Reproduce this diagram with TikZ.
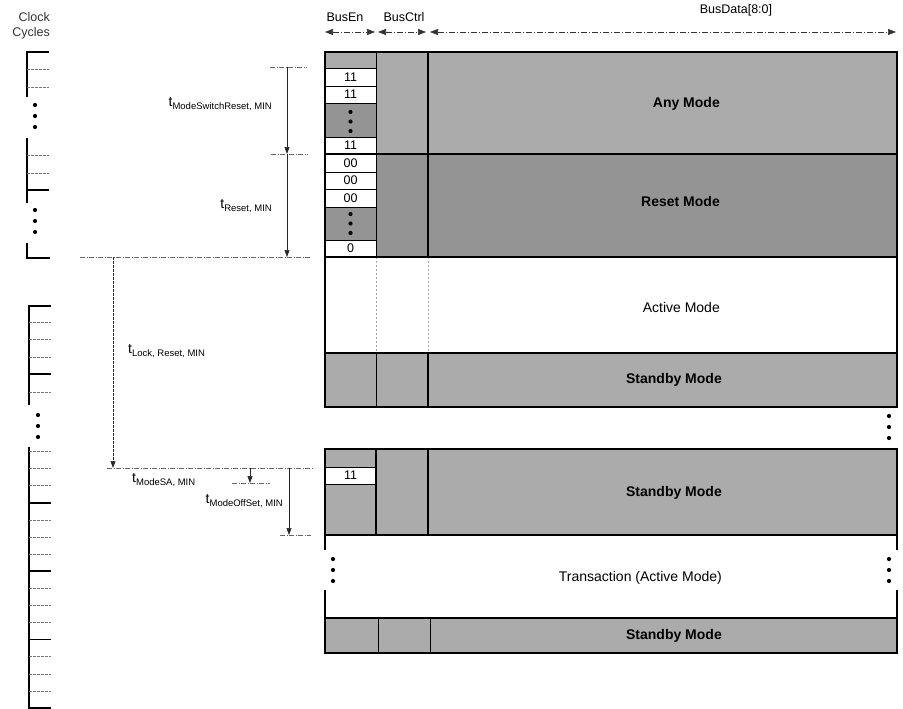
\documentclass[tikz,border=0pt]{standalone}
\usepackage{fontspec}
\setmainfont{Liberation Sans}
\usetikzlibrary{arrows.meta}
\newcommand\tlab[1]{{\fontsize{14}{15}\selectfont t}\raisebox{-2.5pt}{\fontsize{9.5}{10}\selectfont #1}}
\begin{document}
\begin{tikzpicture}[x=1pt,y=-1pt,
  shd/.style={fill=black!33},
  dshd/.style={fill=black!42},
  thk/.style={line width=1.8pt},
  thn/.style={line width=0.8pt},
  faint/.style={black!35,line width=0.5pt,dash pattern=on 2pt off 2pt},
  cell/.style={font=\fontsize{12.5}{12.5}\selectfont,inner sep=0pt},
  mode/.style={anchor=east,font=\fontsize{14}{16}\selectfont,inner sep=0pt},
  modeb/.style={anchor=east,font=\fontsize{14}{16}\selectfont\bfseries,inner sep=0pt},
  dimline/.style={black!60,line width=0.5pt,dash pattern=on 5pt off 1.5pt on 1pt off 1.5pt},
  dimarrow/.style={black!85,line width=0.6pt,-{Triangle[length=7pt,width=5pt]}},
  tickd/.style={black!55,line width=0.5pt,dash pattern=on 3pt off 1pt},
  tickm/.style={line width=1.5pt},
  clk/.style={line width=1.8pt},
  dot/.style={circle,fill=black,inner sep=0pt,minimum size=4.2pt},
  hdr/.style={font=\fontsize{12.5}{14}\selectfont,inner sep=0pt},
  harrow/.style={black!80,line width=0.6pt,dash pattern=on 6pt off 2pt on 1pt off 2pt,{Triangle[length=8pt,width=6pt]}-{Triangle[length=8pt,width=6pt]}},
  tl/.style={inner sep=0pt}
]
\useasboundingbox (0,0) rectangle (903,709);

% ---------- Clock cycles ----------
\node[hdr,anchor=east,black!80] (clk1) at (50,17) {Clock};
\node[hdr,anchor=east,black!80] (clk2) at (50,33) {Cycles};
\draw[clk] (49,52) -- (27,52) -- (27,97);
\foreach \y in {69,87} \draw[tickd] (27,\y) -- (49,\y);
\foreach \y in {105,116,127} \node[dot] at (35,\y) {};
\draw[clk] (27,138) -- (27,203);
\foreach \y in {155,173} \draw[tickd] (27,\y) -- (49,\y);
\draw[tickm] (27,190) -- (49,190);
\foreach \y in {210,221,232} \node[dot] at (35,\y) {};
\draw[clk] (27,243) -- (27,258) -- (50,258);

\draw[clk] (51,306) -- (29,306) -- (29,405);
\foreach \y in {322,339,357,392} \draw[tickd] (29,\y) -- (51,\y);
\draw[tickm] (29,374) -- (51,374);
\foreach \y in {415,426,437} \node[dot] at (38,\y) {};
\draw[clk] (29,447) -- (29,708) -- (51,708);
\foreach \k in {0,1,2,4,5,6,8,9,10,12,13,14} \draw[tickd] (29,451.5+17.1*\k) -- (51,451.5+17.1*\k);
\foreach \k in {3,7,11} \draw[tickm] (29,451.5+17.1*\k) -- (51,451.5+17.1*\k);

% ---------- Header ----------
\node[hdr] (hbe) at (345,17) {BusEn};
\node[hdr] (hbc) at (404,17) {BusCtrl};
\node[hdr] (hbd) at (736,10) {BusData[8:0]};
\coordinate (a1) at (325,32); \coordinate (a2) at (375,32);
\coordinate (b1) at (378,32); \coordinate (b2) at (426,32);
\coordinate (c1) at (430,32); \coordinate (c2) at (896,32);
\draw[harrow] (a1) -- (a2);
\draw[harrow] (b1) -- (b2);
\draw[harrow] (c1) -- (c2);

% ---------- Block 1 ----------
\fill[shd] (376,52) rectangle (897,154);
\fill[dshd] (376,154) rectangle (897,257);
\fill[shd] (325,52) rectangle (376,68);
\fill[dshd] (325,103) rectangle (376,137);
\fill[dshd] (325,207) rectangle (376,240);
\fill[shd] (325,353) rectangle (897,407);
\foreach \y in {68,86,103,137,172,189,207,240} \draw[thn] (325,\y) -- (376,\y);
\draw[thn] (376,52) -- (376,257);
\draw[thk] (428,52) -- (428,257);
\draw[faint] (376,257) -- (376,353);
\draw[faint] (428,257) -- (428,353);
\draw[thn] (376,353) -- (376,407);
\draw[thk] (428,353) -- (428,407);
\draw[thk] (325,154) -- (897,154);
\draw[thk] (325,257) -- (897,257);
\draw[thk] (325,353) -- (897,353);
\draw[thk] (325,52) rectangle (897,407);

\node[cell] (c11a) at (350.5,77) {11};
\node[cell] (c11b) at (350.5,94.5) {11};
\foreach \y in {112,121.5,131} \node[dot] at (350.5,\y) {};
\node[cell] (c11c) at (350.5,145.5) {11};
\node[cell] (c00a) at (350.5,163) {00};
\node[cell] (c00b) at (350.5,180.5) {00};
\node[cell] (c00c) at (350.5,198) {00};
\foreach \y in {214,223.5,233} \node[dot] at (350.5,\y) {};
\node[cell] (c0) at (350.5,248.5) {0};

\node[modeb] (any) at (720,104) {Any Mode};
\node[modeb] (rst) at (720,201) {Reset Mode};
\node[mode] (act) at (720,307) {Active Mode};
\node[modeb] (sb1) at (722,380) {Standby Mode};

\foreach \y in {416,427,438} \node[dot] at (889,\y) {};

% ---------- Block 2 ----------
\fill[shd] (325,449) rectangle (897,535);
\fill[white] (325,467) rectangle (376,484);
\draw[thn] (325,467) -- (376,467);
\draw[thn] (325,484) -- (376,484);
\draw[thk] (376,449) -- (376,535);
\draw[thk] (428,449) -- (428,535);
\draw[thk] (325,449) rectangle (897,535);
\node[cell] (c11d) at (350.5,475.5) {11};
\node[modeb] (sb2) at (722,493) {Standby Mode};

% ---------- Transaction ----------
\draw[thk] (325,535) -- (325,550);
\draw[thk] (325,590) -- (325,618);
\draw[thk] (897,535) -- (897,550);
\draw[thk] (897,590) -- (897,618);
\foreach \y in {559,570,581} {\node[dot] at (333,\y) {}; \node[dot] at (889,\y) {};}
\node[mode] (trn) at (722,578) {Transaction (Active Mode)};

% ---------- Bottom standby ----------
\fill[shd] (325,618) rectangle (897,653);
\draw[thn] (378,618) -- (378,653);
\draw[thn] (430,618) -- (430,653);
\draw[thk] (325,618) rectangle (897,653);
\node[modeb] (sb3) at (722,636) {Standby Mode};

% ---------- Timing annotations ----------
\coordinate (m1) at (287,67); \coordinate (m2) at (287,154); \coordinate (m3) at (287,257);
\draw[dimline] (270,67) -- (307,67);
\draw[dimline] (271,154) -- (308,154);
\draw[dimline] (80,257) -- (310,257);
\draw[dimarrow] (m1) -- (m2);
\draw[dimarrow] (m2) -- (m3);
\node[tl,anchor=east] (lmsr) at (272,104) {\tlab{ModeSwitchReset, MIN}};
\node[tl,anchor=east] (lrst) at (272,206) {\tlab{Reset, MIN}};

\coordinate (k1) at (113,257); \coordinate (k2) at (113,468);
\draw[dimarrow,dash pattern=on 3pt off 1pt] (k1) -- (k2);
\draw[dimline] (107,468) -- (313,468);
\node[tl,anchor=west] (llck) at (128,351) {\tlab{Lock, Reset, MIN}};

\coordinate (s1) at (250,468); \coordinate (s2) at (250,483);
\draw[dimarrow] (s1) -- (s2);
\draw[dimline] (232,483) -- (270,483);
\node[tl,anchor=west] (lsa) at (132,480) {\tlab{ModeSA, MIN}};

\coordinate (o1) at (289,468); \coordinate (o2) at (289,535);
\draw[dimarrow] (o1) -- (o2);
\draw[dimline] (280,535) -- (311,535);
\node[tl,anchor=east] (loff) at (283,501) {\tlab{ModeOffSet, MIN}};
\end{tikzpicture}
\end{document}
